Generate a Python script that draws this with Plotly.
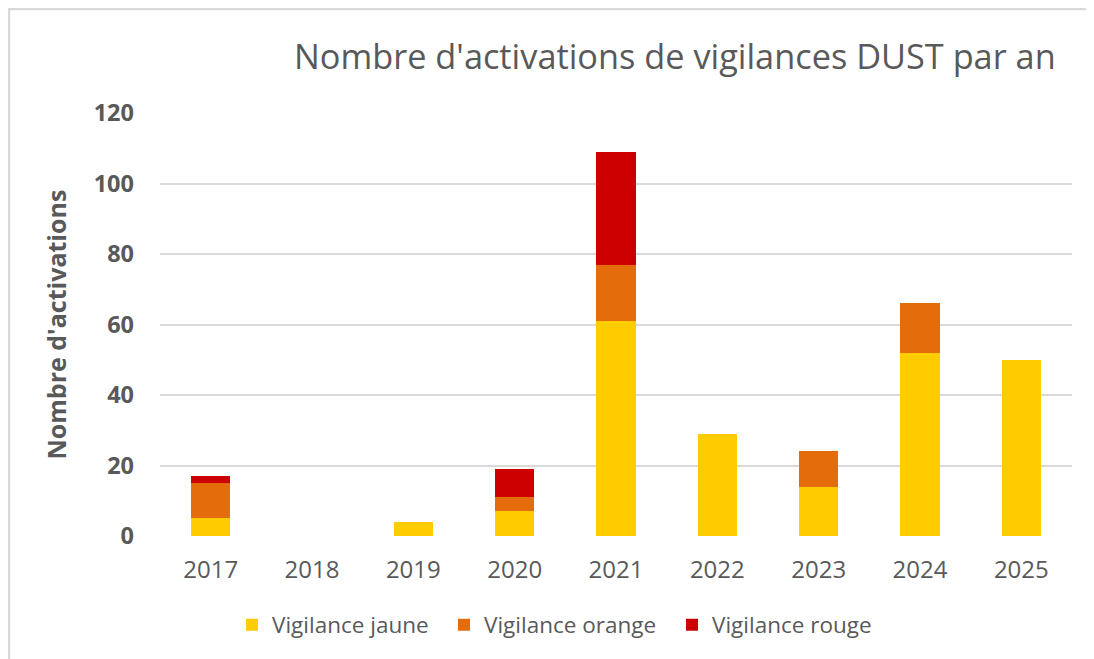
import plotly.graph_objects as go

annees = ["2017", "2018", "2019", "2020", "2021", "2022", "2023", "2024", "2025"]
jaune = [5, 0, 4, 7, 61, 29, 14, 52, 50]
orange = [10, 0, 0, 4, 16, 0, 10, 14, 0]
rouge = [2, 0, 0, 8, 32, 0, 0, 0, 0]

titre = "Nombre d'activations de vigilances DUST par an"
titre_y = "Nombre d'activations"
y_ticks = [0, 20, 40, 60, 80, 100, 120]

# figure is drawn inside the page's default 8px body margin
W, H = 1086, 651
L, R, T, B = 152, 22, 105, 123
pw, ph = W - L - R, H - T - B

def px_x(p):
    return (p - L) / pw

def px_y(p):
    return (H - B - p) / ph

gris = "#595959"
FONT = "Open Sans"

series = [("Vigilance jaune", jaune, "#FFCC00", "legend", 224),
          ("Vigilance orange", orange, "#E46C0A", "legend2", 436),
          ("Vigilance rouge", rouge, "#CC0000", "legend3", 664)]

fig = go.Figure()
legends = {}
for nom, vals, col, leg, lx in series:
    fig.add_trace(go.Bar(x=annees, y=vals, name=nom, marker_color=col,
                         marker_line_width=0, legend=leg))
    legends[leg] = dict(orientation="h", x=px_x(lx), xanchor="left",
                        y=px_y(617), yanchor="middle", bgcolor="rgba(0,0,0,0)",
                        font=dict(size=22.5, color=gris, family=FONT))

fig.update_layout(
    width=W, height=H,
    margin=dict(l=L, r=R, t=T, b=B, autoexpand=False),
    barmode="stack", bargap=0.61,
    plot_bgcolor="white", paper_bgcolor="white",
    font=dict(family=FONT, color=gris),
    showlegend=True,
    xaxis=dict(showline=False, ticks="", tickfont=dict(size=24, color=gris),
               showgrid=False, zeroline=False, ticklabelstandoff=17),
    yaxis=dict(range=[0, 120], tickvals=y_ticks, showgrid=True, gridcolor="#D9D9D9",
               gridwidth=2, zeroline=False, ticks="", ticklabelstandoff=25,
               tickfont=dict(size=23.5, color=gris, weight="bold")),
    annotations=[dict(text=titre, xref="paper", yref="paper", x=px_x(1050), y=px_y(47),
                      xanchor="right", yanchor="middle", showarrow=False,
                      font=dict(size=34.3, color=gris, family=FONT)),
                 dict(text=titre_y, xref="paper", yref="paper", x=px_x(47), y=px_y(316.5),
                      xanchor="center", yanchor="middle", textangle=-90, showarrow=False,
                      font=dict(size=25, color=gris, family=FONT, weight="bold"))],
    shapes=[dict(type="line", xref="paper", yref="paper", x0=px_x(0), x1=px_x(1086),
                 y0=px_y(1), y1=px_y(1), line=dict(color="#D9D9D9", width=2.5)),
            dict(type="line", xref="paper", yref="paper", x0=px_x(1), x1=px_x(1),
                 y0=px_y(0), y1=px_y(651), line=dict(color="#D9D9D9", width=2.5))],
    **legends,
)
fig.write_html("out.html")
